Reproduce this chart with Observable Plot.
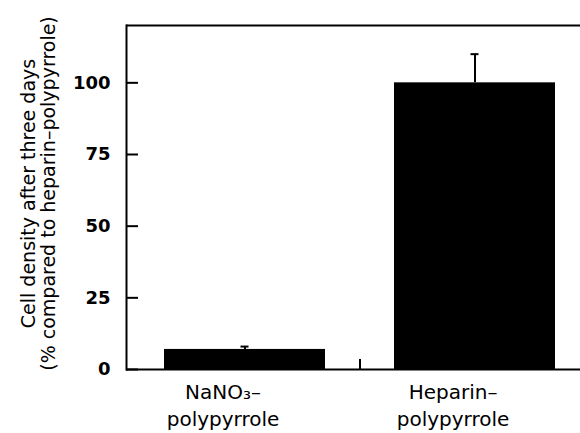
<!DOCTYPE html>
<html>
<head>
<meta charset="utf-8">
<script src="https://cdn.jsdelivr.net/npm/d3@7"></script>
<script src="https://cdn.jsdelivr.net/npm/@observablehq/plot@0.6"></script>
<style>
  html, body { margin: 0; padding: 0; background: #fff; }
  #chart svg { display: block; }
</style>
</head>
<body>
<div id="chart"></div>
<script>
const categories = ["NaNO₃–\npolypyrrole", "Heparin–\npolypyrrole"];
const values = [7, 100];
const errorTops = [8, 110];
const yTicks = [0, 25, 50, 75, 100];
const yTitle = "Cell density after three days\n(% compared to heparin–polypyrrole)";

const data = categories.map((c, i) => ({cat: c, value: values[i], err: errorTops[i]}));

const xRange = [129, 589], padIn = 0.3, padOut = 0.15;
const step = (xRange[1] - xRange[0]) / (categories.length - padIn + 2 * padOut);
const bandwidth = step * (1 - padIn);
const font = "DejaVu Sans, sans-serif";

const chart = Plot.plot({
  width: 580,
  height: 433,
  marginLeft: 126,
  marginRight: 0,
  marginTop: 25,
  marginBottom: 64,
  style: {fontFamily: font, background: "#fff", color: "#000", overflow: "visible"},
  x: {type: "band", domain: categories, range: xRange, paddingInner: padIn, paddingOuter: padOut},
  y: {domain: [0, 120]},
  marks: [
    Plot.barY(data, {x: "cat", y: "value", fill: "#000"}),
    Plot.ruleX(data, {x: "cat", y1: "value", y2: "err", stroke: "#000", strokeWidth: 2}),
    Plot.tickY(data, {x: "cat", y: "err", stroke: "#000", strokeWidth: 2,
      insetLeft: (bandwidth - 8) / 2, insetRight: (bandwidth - 8) / 2}),
    Plot.ruleX([categories[0]], {x: d => d, dx: step / 2, y1: 0, y2: 3.5, stroke: "#000", strokeWidth: 2}),
    Plot.ruleY([0], {stroke: "#000", strokeWidth: 2}),
    Plot.ruleY([120], {stroke: "#000", strokeWidth: 2}),
    Plot.frame({anchor: "left", stroke: "#000", strokeWidth: 2}),
    Plot.axisY({ticks: yTicks, tickSize: -12, tickPadding: 28, strokeWidth: 2,
      fontSize: 18, fontWeight: "bold", label: null, tickFormat: d => String(d)}),
    Plot.axisX({tickSize: 0, tickPadding: 10, fontSize: 20, lineHeight: 1.36, dx: -22, label: null}),
    Plot.text([yTitle], {frameAnchor: "left", dx: -88, dy: -4, rotate: -90,
      fontSize: 19, lineHeight: 1.05, textAnchor: "middle", lineAnchor: "middle", fill: "#000"})
  ]
});
document.getElementById("chart").append(chart);
</script>
</body>
</html>
